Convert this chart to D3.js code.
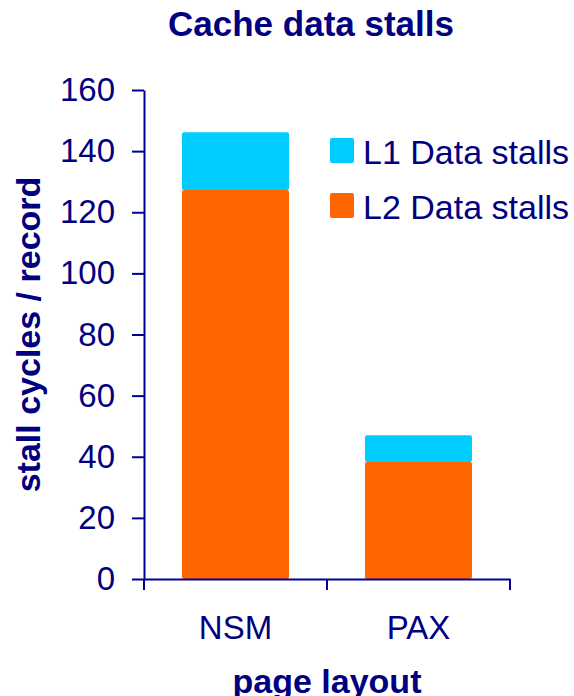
<!DOCTYPE html>
<html>
<head>
<meta charset="utf-8">
<script src="https://cdn.jsdelivr.net/npm/d3@7"></script>
<style>
  html, body { margin: 0; padding: 0; background: #fff; }
  svg { display: block; font-family: "Liberation Sans", Arial, sans-serif; }
</style>
</head>
<body>
<svg id="chart" width="574" height="696"></svg>
<script>
const categories = ["NSM", "PAX"];
const seriesNames = ["L2 Data stalls", "L1 Data stalls"];
const l2Values = [127.3, 38.3];
const l1Values = [18.9, 8.7];
const yTicks = [0, 20, 40, 60, 80, 100, 120, 140, 160];
const colors = { "L1 Data stalls": "#00CCFF", "L2 Data stalls": "#FF6600" };
const legendOrder = ["L1 Data stalls", "L2 Data stalls"];

const navy = "#000080";
const axisColor = "#000099";

const svg = d3.select("#chart");
const plotLeft = 144, plotRight = 510, plotTop = 90, plotBottom = 579;

const rows = categories.map((c, i) => ({
  cat: c, "L2 Data stalls": l2Values[i], "L1 Data stalls": l1Values[i]
}));
const stacked = d3.stack().keys(seriesNames)(rows);

const x = d3.scaleBand().domain(categories).range([plotLeft, plotRight])
  .paddingInner(0.415).paddingOuter(0.2075);
const xb = d3.scaleBand().domain(categories).range([plotLeft, plotRight]).padding(0);
const y = d3.scaleLinear().domain([0, 160]).range([plotBottom, plotTop]);

// bars
svg.append("g").selectAll("g").data(stacked).join("g")
  .attr("fill", d => colors[d.key])
  .selectAll("rect").data(d => d).join("rect")
  .attr("x", d => x(d.data.cat))
  .attr("width", x.bandwidth())
  .attr("y", d => y(d[1]))
  .attr("height", d => y(d[0]) - y(d[1]))
  .attr("rx", 2);

// y axis
const yAxis = svg.append("g").attr("transform", `translate(${plotLeft},0)`)
  .call(d3.axisLeft(y).tickValues(yTicks).tickSize(12).tickPadding(17).tickSizeOuter(0));
yAxis.select(".domain").attr("stroke", axisColor).attr("stroke-width", 2);
yAxis.selectAll(".tick line").attr("stroke", axisColor).attr("stroke-width", 2);
yAxis.selectAll(".tick text").attr("fill", navy).attr("font-size", 33)
  .attr("font-family", "Liberation Sans, Arial, sans-serif");

// x axis
const xAxis = svg.append("g").attr("transform", `translate(0,${plotBottom})`)
  .call(d3.axisBottom(xb).tickSize(0).tickPadding(37).tickSizeOuter(0));
xAxis.select(".domain").attr("stroke", axisColor).attr("stroke-width", 2);
xAxis.selectAll(".tick text").attr("fill", navy).attr("font-size", 33)
  .attr("font-family", "Liberation Sans, Arial, sans-serif");
const boundaries = categories.map(c => xb(c)).concat([xb(categories[categories.length - 1]) + xb.bandwidth()]);
xAxis.selectAll("line.bound").data(boundaries).join("line")
  .attr("class", "bound")
  .attr("x1", d => d).attr("x2", d => d)
  .attr("y1", 0).attr("y2", 11)
  .attr("stroke", axisColor).attr("stroke-width", 2);

// title
svg.append("text").attr("x", 311).attr("y", 36).attr("text-anchor", "middle")
  .attr("fill", navy).attr("font-size", 35).attr("font-weight", "bold")
  .text("Cache data stalls");

// y label
svg.append("text").attr("transform", `translate(40,${(plotTop + plotBottom) / 2}) rotate(-90)`)
  .attr("text-anchor", "middle").attr("fill", navy).attr("font-size", 34).attr("font-weight", "bold")
  .text("stall cycles / record");

// x label
svg.append("text").attr("x", 327).attr("y", 693).attr("text-anchor", "middle")
  .attr("fill", navy).attr("font-size", 34).attr("font-weight", "bold")
  .text("page layout");

// legend
const lg = svg.append("g").selectAll("g").data(legendOrder).join("g")
  .attr("transform", (d, i) => `translate(330,${138 + i * 55})`);
lg.append("rect").attr("width", 24).attr("height", 25).attr("rx", 2)
  .attr("fill", d => colors[d]);
lg.append("text").attr("x", 33).attr("y", 26).attr("fill", navy)
  .attr("font-size", 34).text(d => d);
</script>
</body>
</html>
